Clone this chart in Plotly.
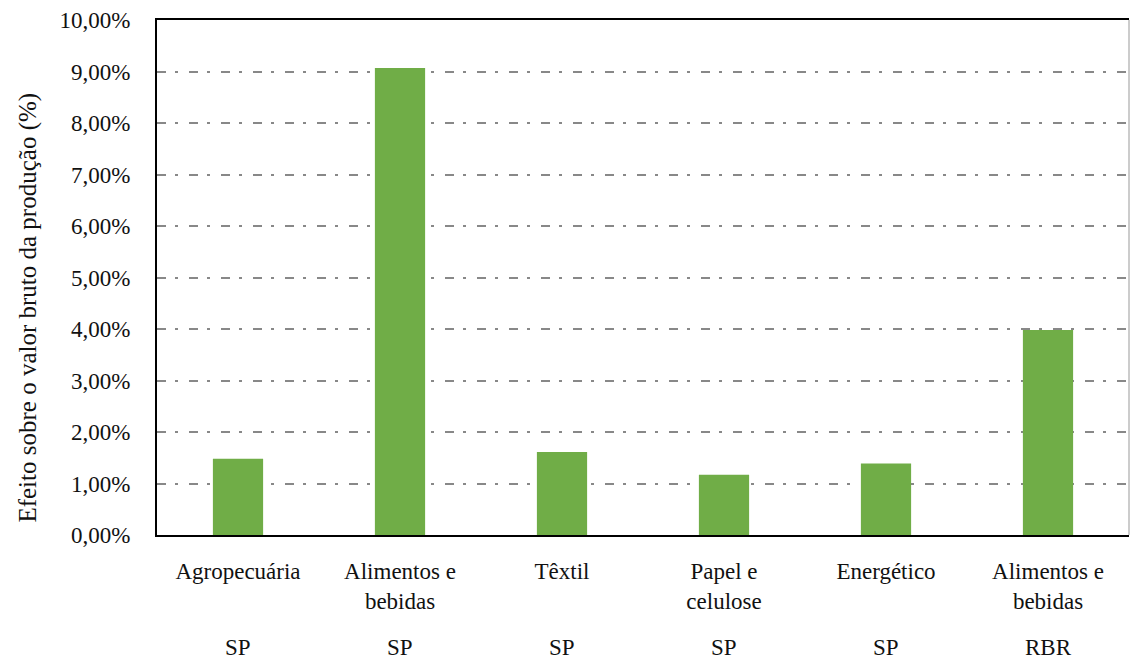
import plotly.graph_objects as go

# Setores e regiões
setores = ["Agropecuária", "Alimentos e<br>bebidas", "Têxtil", "Papel e<br>celulose", "Energético", "Alimentos e<br>bebidas"]
regioes = ["SP", "SP", "SP", "SP", "SP", "RBR"]
efeito = [1.48, 9.07, 1.61, 1.17, 1.39, 3.98]  # % sobre o valor bruto da produção

y_ticks = [0, 1, 2, 3, 4, 5, 6, 7, 8, 9, 10]
y_ticktext = ["0,00%", "1,00%", "2,00%", "3,00%", "4,00%", "5,00%", "6,00%", "7,00%", "8,00%", "9,00%", "10,00%"]

x_pos = list(range(len(setores)))

FONT = "Times New Roman"
FS = 23

fig = go.Figure()
fig.add_trace(go.Bar(
    x=x_pos, y=efeito, width=0.31,
    marker=dict(color="#70AD47", line=dict(width=0)),
    hoverinfo="skip",
))

# Rótulos de região abaixo dos setores
for xi, reg in zip(x_pos, regioes):
    fig.add_annotation(x=xi, xref="x", y=-0.219, yref="paper", text=reg,
                       showarrow=False, yanchor="middle",
                       font=dict(family=FONT, size=FS, color="#111111"))

# Título do eixo Y
fig.add_annotation(x=-0.133, xref="paper", y=0.441, yref="paper",
                   text="Efeito sobre o valor bruto da produção (%)",
                   textangle=-90, showarrow=False, xanchor="center", yanchor="middle",
                   font=dict(family=FONT, size=25, color="#111111"))

# Borda direita do gráfico
fig.add_shape(type="line", xref="paper", yref="paper", x0=1, x1=1, y0=0, y1=1,
              line=dict(color="#999999", width=1))

fig.update_layout(
    width=1131, height=664,
    margin=dict(l=157, r=2, t=20, b=129),
    paper_bgcolor="white", plot_bgcolor="white",
    showlegend=False,
    font=dict(family=FONT, size=FS, color="#111111"),
    xaxis=dict(
        tickmode="array", tickvals=x_pos, ticktext=setores,
        range=[-0.5, len(setores) - 0.5],
        showgrid=False, zeroline=False,
        showline=True, linecolor="black", linewidth=2, mirror=True,
        ticks="", ticklabelstandoff=14,
        tickfont=dict(family=FONT, size=FS, color="#111111"),
    ),
    yaxis=dict(
        tickmode="array", tickvals=y_ticks, ticktext=y_ticktext,
        range=[0, 10],
        showgrid=True, gridcolor="#888888", gridwidth=2,
        griddash="9px,9px,3px,11px",
        zeroline=False,
        showline=True, linecolor="black", linewidth=2,
        ticks="", ticklabelstandoff=20,
        tickfont=dict(family=FONT, size=FS, color="#111111"),
    ),
)

fig.write_html("out.html")
